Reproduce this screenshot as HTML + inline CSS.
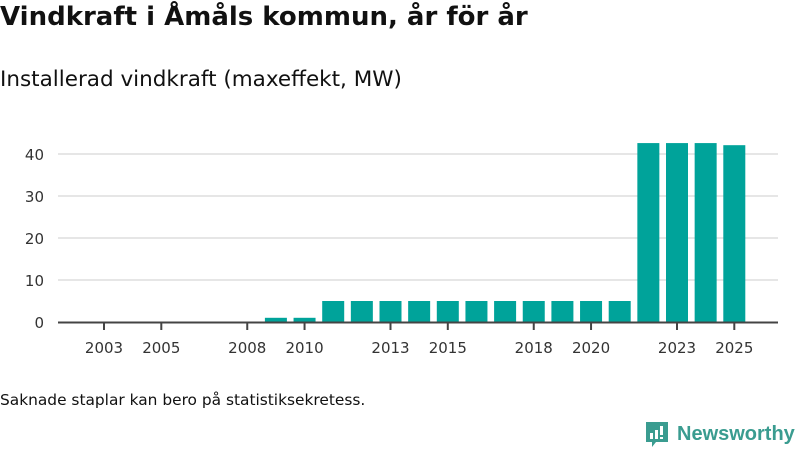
<!DOCTYPE html>
<html><head><meta charset="utf-8"><style>
body{margin:0;width:800px;height:450px;background:#fff;font-family:"DejaVu Sans","Liberation Sans",sans-serif;color:#111;overflow:hidden;position:relative}
#title{position:absolute;left:0;top:2px;font-size:26px;font-weight:bold;margin:0;white-space:nowrap}
#sub{position:absolute;left:0;top:67px;font-size:21.5px;white-space:nowrap}
#note{position:absolute;left:0;top:391px;font-size:15.4px;white-space:nowrap}
#logo{position:absolute;left:644px;top:420px;display:flex;align-items:center;color:#3a9c90;font-family:"Liberation Sans",sans-serif;font-size:20px;font-weight:bold;white-space:nowrap}
</style></head><body>
<h1 id="title">Vindkraft i Åmåls kommun, år för år</h1>
<div id="sub">Installerad vindkraft (maxeffekt, MW)</div>
<svg id="chart" width="800" height="450" style="position:absolute;left:0;top:0;font-family:'DejaVu Sans',sans-serif"></svg>
<div id="note">Saknade staplar kan bero på statistiksekretess.</div>
<div id="logo"><svg width="26" height="28" viewBox="0 0 26 28"><path d="M2 2h22v20H12l-4 5v-5H2z" fill="#3a9c90"/><rect x="6" y="13" width="3" height="6" fill="#fff"/><rect x="11" y="10" width="3" height="9" fill="#fff"/><rect x="16" y="6" width="3" height="9" fill="#fff"/><rect x="16" y="17" width="3" height="2" fill="#fff"/></svg><span style="margin-left:7px">Newsworthy</span></div>
<script>
const years=[2009,2010,2011,2012,2013,2014,2015,2016,2017,2018,2019,2020,2021,2022,2023,2024,2025];
const values=[1,1,5,5,5,5,5,5,5,5,5,5,5,42.6,42.6,42.6,42.1];
const yTicks=[0,10,20,30,40];
const xTicks=[2003,2005,2008,2010,2013,2015,2018,2020,2023,2025];
const NS="http://www.w3.org/2000/svg";
const svg=document.getElementById('chart');
const x=y=>104+(y-2003)*28.65;
const yv=v=>322-v*4.2;
function mk(t,a){const e=document.createElementNS(NS,t);for(const k in a)e.setAttribute(k,a[k]);svg.appendChild(e);return e;}
yTicks.forEach(t=>{
 if(t>0){const g=mk('line',{x1:58,x2:778,y1:yv(t),y2:yv(t),stroke:'#ddd','stroke-width':1.5});
 
 }
 const l=mk('text',{x:44,y:yv(t)+6,'text-anchor':'end','font-size':15,fill:'#333'});
 l.textContent=t;
 
 
});
years.forEach((yr,i)=>{
 const r=mk('rect',{x:x(yr)-11,y:yv(values[i]),width:22,height:322-yv(values[i]),fill:'#00a39a'});
 
 
});
const ax=mk('line',{x1:58,x2:778,y1:322.5,y2:322.5,stroke:'#444','stroke-width':2});


xTicks.forEach(t=>{
 mk('line',{x1:x(t),x2:x(t),y1:323,y2:330,stroke:'#444','stroke-width':2});
 const l=mk('text',{x:x(t),y:353,'text-anchor':'middle','font-size':15,fill:'#333'});
 l.textContent=t;
 
 
});
</script>
</body></html>
